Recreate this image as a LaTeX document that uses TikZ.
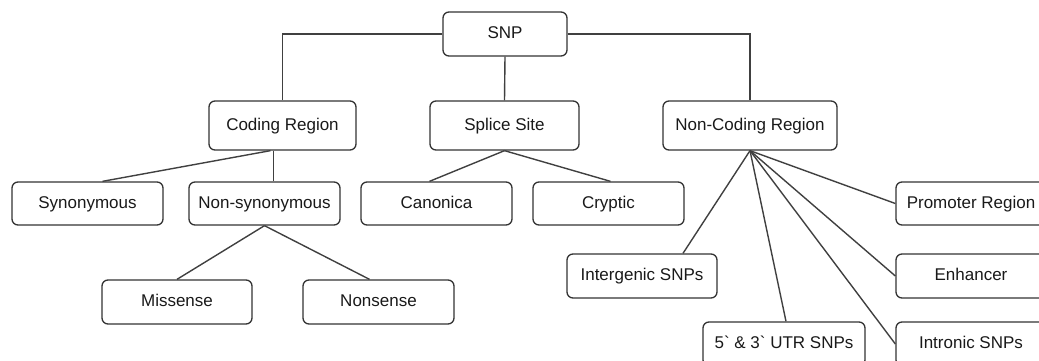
\documentclass[tikz,border=0pt]{standalone}
\usepackage{fontspec}
\setmainfont{Liberation Sans}
\begin{document}
\begin{tikzpicture}[x=1pt,y=-1pt,
  box/.style={draw=black!80, line width=1.3pt, rounded corners=6pt, inner sep=0pt,
    text=black!90, font=\fontsize{17}{20}\selectfont, text height=12.5pt, text depth=3.5pt,
    minimum width=151pt, minimum height=43pt},
  conn/.style={draw=black!75, line width=1.4pt}]
\useasboundingbox (0,0) rectangle (1039,361);
\node[box, minimum width=124pt, minimum height=44pt] (snp) at (505,34) {SNP};
\node[box, minimum width=147pt, minimum height=49pt] (cod) at (282.5,125.5) {Coding Region};
\node[box, minimum width=149pt, minimum height=49pt] (spl) at (504.5,125.5) {Splice Site};
\node[box, minimum width=174pt, minimum height=49pt] (ncr) at (750,125.5) {Non-Coding Region};
\node[box] (syn) at (87.5,203.5) {Synonymous};
\node[box] (nsyn) at (264.5,203.5) {Non-synonymous};
\node[box] (can) at (436.5,203.5) {Canonica};
\node[box] (cry) at (608.5,203.5) {Cryptic};
\node[box, minimum width=150pt] (pro) at (971,203.5) {Promoter Region};
\node[box, minimum width=150pt, minimum height=44pt] (mis) at (177,302) {Missense};
\node[box, minimum height=44pt] (non) at (378.5,302) {Nonsense};
\node[box, minimum width=150pt, minimum height=44pt] (ig) at (642,276) {Intergenic SNPs};
\node[box, minimum width=150pt, minimum height=44pt] (enh) at (971,276) {Enhancer};
\node[box, minimum width=162pt, minimum height=44pt] (utr) at (784,344) {5\textasciigrave{} \& 3\textasciigrave{} UTR SNPs};
\node[box, minimum width=150pt, minimum height=44pt] (intr) at (971,344) {Intronic SNPs};
% connectors
\draw[conn] (snp.west) -| (cod.north);
\draw[conn] (snp.south) -- (spl.north);
\draw[conn] (snp.east) -| (ncr.north);
\draw[conn] ([xshift=-12pt]cod.south) -- ([xshift=15pt]syn.north);
\draw[conn] ([xshift=-9pt]cod.south) -- ([xshift=9pt]nsyn.north);
\draw[conn] (nsyn.south) -- (mis.north);
\draw[conn] (nsyn.south) -- ([xshift=-9pt]non.north);
\draw[conn] (spl.south) -- ([xshift=-7pt]can.north);
\draw[conn] (spl.south) -- ([xshift=2pt]cry.north);
\draw[conn] (ncr.south) -- ([xshift=41pt]ig.north);
\draw[conn] (ncr.south) -- ([xshift=2pt]utr.north);
\draw[conn] (ncr.south) -- (intr.west);
\draw[conn] (ncr.south) -- (enh.west);
\draw[conn] (ncr.south) -- (pro.west);
\end{tikzpicture}
\end{document}
